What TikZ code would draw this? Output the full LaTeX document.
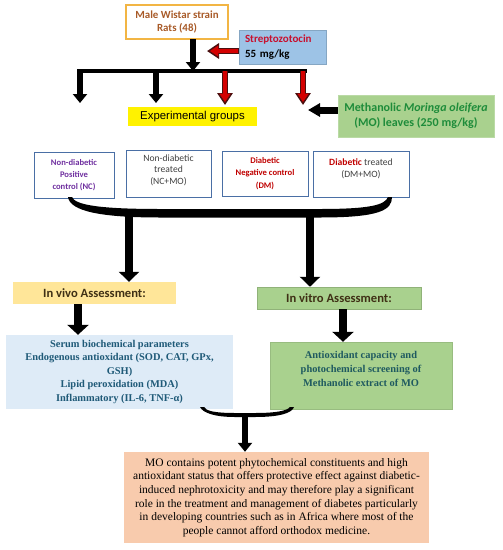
\documentclass[tikz,border=0pt]{standalone}
\usepackage{fontspec}
\setmainfont{Liberation Serif}
\newfontfamily\calf{Carlito}
\newfontfamily\arialf{Liberation Sans}
\usetikzlibrary{arrows.meta}
\definecolor{ratsbd}{HTML}{F2B544}
\definecolor{ratstx}{HTML}{A85A28}
\definecolor{strepfill}{HTML}{9DC3E6}
\definecolor{streptx}{HTML}{C8102E}
\definecolor{mofill}{HTML}{A9D18E}
\definecolor{motx}{HTML}{1E8C3A}
\definecolor{grpbd}{HTML}{4A6FA5}
\definecolor{purp}{HTML}{7030A0}
\definecolor{dred}{HTML}{C00000}
\definecolor{gtx}{HTML}{404040}
\definecolor{vivofill}{HTML}{FFE699}
\definecolor{asstx}{HTML}{3F3015}
\definecolor{serumfill}{HTML}{DEEBF7}
\definecolor{serumtx}{HTML}{1F5A78}
\definecolor{antitx}{HTML}{1F5A60}
\definecolor{conclfill}{HTML}{F8CBAD}
\definecolor{arrred}{HTML}{D40000}
\definecolor{arrbd}{HTML}{4A1010}
\begin{document}
\begin{tikzpicture}[x=1pt,y=-1pt,
  box/.style={inner sep=0pt, align=center},
  grp/.style={box, draw=grpbd, line width=0.9pt, fill=white,
    font=\calf\fontsize{9.6}{11.8}\selectfont},
  blk/.style={line width=#1, -{Triangle[width=14pt,length=9pt]}},
  blk/.default=5.5pt,
  bigblk/.style={line width=7.5pt, -{Triangle[width=20pt,length=10pt]}},
  redout/.style={line width=6pt, arrbd, -{Triangle[width=15pt,length=12pt]}},
  redin/.style={line width=3.6pt, arrred, -{Triangle[width=10.5pt,length=8.5pt]}},
]
\useasboundingbox (0,0) rectangle (503,550);

% top boxes
\node[box, draw=ratsbd, line width=1.3pt, fill=white, minimum width=102pt, minimum height=34pt,
  text=ratstx, font=\calf\bfseries\fontsize{10.9}{13.5}\selectfont] (rats) at (177,22)
  {Male Wistar strain\\Rats (48)};
\node[box, draw=strepfill!85!black, line width=0.5pt, fill=strepfill, minimum width=87pt, minimum height=34pt,
  align=left, text width=75pt, inner xsep=6pt, font=\calf\bfseries\fontsize{11}{14.5}\selectfont] (strep) at (282.5,47)
  {\textcolor{streptx}{Streptozotocin}\\55 mg/kg};
\node[box, fill=yellow, minimum width=129pt, minimum height=19pt,
  font=\arialf\fontsize{11.4}{13}\selectfont] (exp) at (192.5,116.5) {Experimental groups};
\node[box, draw=mofill!80!white, line width=0.5pt, fill=mofill, minimum width=156pt, minimum height=42pt,
  text=motx, font=\calf\bfseries\fontsize{12}{15}\selectfont] (mo) at (416,116)
  {Methanolic \textit{Moringa oleifera}\\(MO) leaves (250 mg/kg)};

% connectors top
\coordinate (ratsout) at (193,39);
\coordinate (barmid) at (193,71);
\draw[blk=6pt] (ratsout) -- (barmid);
\coordinate (strepout) at (239,51);
\coordinate (strepin) at (207,51);
\draw[redout] (strepout) -- (strepin);
\draw[redin] (237.5,51) -- (209.8,51);
\coordinate (barL) at (77,71);
\coordinate (barR) at (307,71);
\draw[line width=4.5pt] (barL) -- (barR);
\coordinate (a1) at (80,71);   \coordinate (t1) at (80,103);
\coordinate (a2) at (156,71);  \coordinate (t2) at (156,103);
\coordinate (a3) at (225,71);  \coordinate (t3) at (225,105);
\coordinate (a4) at (303,71);  \coordinate (t4) at (303,105);
\draw[blk] (a1) -- (t1);
\draw[blk] (a2) -- (t2);
\draw[redout] (a3) -- (t3);
\draw[redin] (225,71) -- (225,102.2);
\draw[redout] (a4) -- (t4);
\draw[redin] (303,71) -- (303,102.2);
\coordinate (motip) at (308,110);
\draw[line width=7pt, -{Triangle[width=13pt,length=12pt]}] (mo.west |- motip) -- (motip);

% group boxes
\node[grp, minimum width=80pt, minimum height=46pt, text=purp, font=\calf\bfseries\fontsize{8.6}{11.8}\selectfont] (g1) at (74,175)
  {Non-diabetic\\Positive\\control (NC)};
\node[grp, minimum width=85pt, minimum height=47pt, text=gtx] (g2) at (168.5,173.5)
  {Non-diabetic\\treated\\(NC+MO)\\[-4pt]~};
\node[grp, minimum width=86pt, minimum height=45pt, text=dred, font=\calf\bfseries\fontsize{8.6}{12.3}\selectfont] (g3) at (265,173.5)
  {Diabetic\\Negative control\\(DM)};
\node[grp, minimum width=96pt, minimum height=46pt, text=gtx] (g4) at (361,174)
  {\textcolor{dred}{\bfseries Diabetic} treated\\(DM+MO)\\~};

% big bracket
\fill (68,197) .. controls (70,211) and (100,217.5) .. (160,217.5) -- (320,217.5)
  .. controls (380,217.5) and (392,210) .. (392,197)
  -- (388,197) .. controls (385,205) and (370,209) .. (320,209) -- (160,209)
  .. controls (100,209) and (75,205) .. (72,197) -- cycle;

% assessment boxes
\node[box, fill=vivofill, minimum width=163pt, minimum height=22pt, text=asstx,
  font=\calf\bfseries\fontsize{12.6}{14}\selectfont] (vivo) at (94.5,293) {In vivo Assessment:};
\node[box, draw=mofill!85!black, line width=0.5pt, fill=mofill, minimum width=164pt, minimum height=22pt, text=asstx,
  font=\calf\bfseries\fontsize{12.6}{14}\selectfont] (vitro) at (339,298) {In vitro Assessment:};
\coordinate (bl) at (129,213);
\coordinate (br) at (310,213);
\draw[bigblk] (bl) -- (bl |- vivo.north);
\draw[bigblk] (br) -- (br |- vitro.north);

\node[box, fill=serumfill, minimum width=227pt, minimum height=74pt, text=serumtx,
  font=\bfseries\fontsize{10.4}{13.5}\selectfont] (serum) at (119.5,372)
  {Serum biochemical parameters\\Endogenous antioxidant (SOD, CAT, GPx,\\GSH)\\Lipid peroxidation (MDA)\\Inflammatory (IL-6, TNF-α)};
\node[box, draw=mofill!90!black, line width=0.4pt, fill=mofill, minimum width=182pt, minimum height=67pt, text=antitx,
  font=\bfseries\fontsize{10.4}{14}\selectfont] (anti) at (361,375.5)
  {Antioxidant capacity and\\photochemical screening of\\Methanolic extract of MO\\~};
\coordinate (vivoarr) at (78,304);
\coordinate (vitroarr) at (343,309);
\draw[line width=7.5pt, -{Triangle[width=21pt,length=10pt]}] (vivoarr) -- (vivoarr |- serum.north);
\draw[line width=7.5pt, -{Triangle[width=21pt,length=10pt]}] (vitroarr) -- (vitroarr |- anti.north);

% bottom bracket
\fill (200,407) .. controls (203,413) and (215,417) .. (235,417) -- (255,417)
  .. controls (280,417) and (292,413) .. (294,407)
  -- (290,407) .. controls (287,411) and (275,413) .. (255,413) -- (235,413)
  .. controls (215,413) and (206,411) .. (204,407) -- cycle;

\node[box, fill=conclfill, minimum width=305pt, minimum height=91pt,
  font=\fontsize{11.5}{13.6}\selectfont] (concl) at (276.5,497.5)
  {MO contains potent phytochemical constituents and high\\
   antioxidant status that offers protective effect against diabetic-\\
   induced nephrotoxicity and may therefore play a significant\\
   role in the treatment and management of diabetes particularly\\
   in developing countries such as in Africa where most of the\\
   people cannot afford orthodox medicine.};
\coordinate (bm) at (245,415);
\draw[blk=6pt] (bm) -- (bm |- concl.north);
\end{tikzpicture}
\end{document}
